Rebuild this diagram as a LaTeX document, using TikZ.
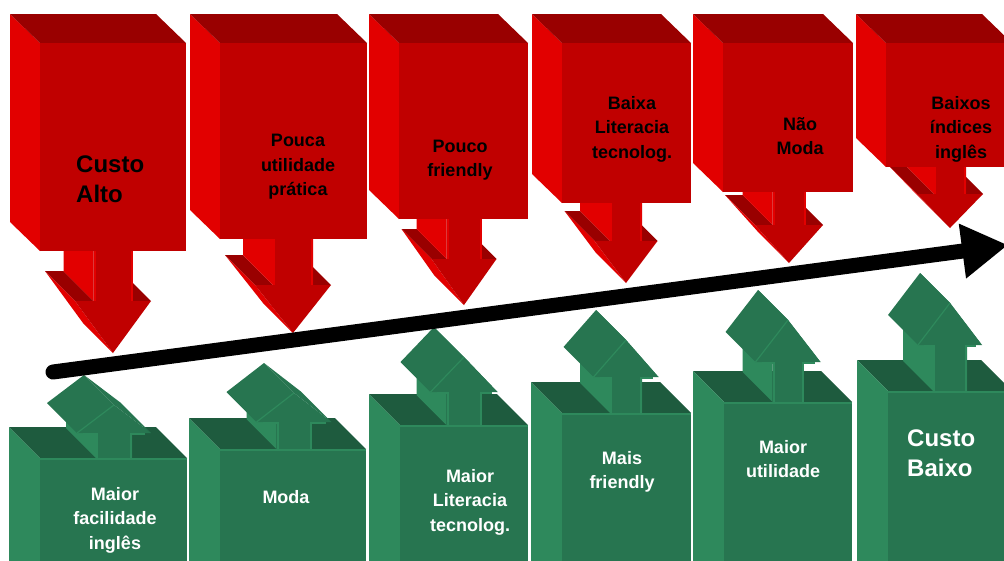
\documentclass[tikz,border=0pt]{standalone}
\usepackage{fontspec}
\setmainfont{Liberation Sans}
\usetikzlibrary{arrows.meta}

\definecolor{redfront}{RGB}{192,0,0}
\definecolor{redside}{RGB}{226,0,0}
\definecolor{redtop}{RGB}{153,0,0}
\definecolor{grnfront}{RGB}{39,117,80}
\definecolor{grnside}{RGB}{46,137,92}
\definecolor{grntop}{RGB}{30,91,62}

\newcommand{\blockdown}[8]{
  \fill[redtop] (#4-#6,#7) -- (#4-#5,#7) -- (#4-#5-30,#7-30) -- (#4-#6-30,#7-30) -- cycle;
  \fill[redtop] (#4+#5,#7) -- (#4+#6,#7) -- (#4+#6-30,#7-30) -- (#4+#5-30,#7-30) -- cycle;
  \fill[redside] (#4-#5,#3-40) -- (#4-#5,#7) -- (#4-#5-30,#7-30) -- (#4-#5-30,#3-70) -- cycle;
  \fill[redside] (#4-#6,#7) -- (#4,#8) -- (#4-30,#8-30) -- (#4-#6-30,#7-30) -- cycle;
  \fill[redfront] (#4-#5,#3-40) -- (#4-#5,#7) -- (#4-#6,#7) -- (#4,#8) -- (#4+#6,#7) -- (#4+#5,#7) -- (#4+#5,#3-40) -- cycle;
  \draw[redside, line width=2pt] (#4-#5+1,#3) -- (#4-#5+1,#7) (#4+#5-1,#3) -- (#4+#5-1,#7);
  \fill[redside] (#1-30,14) -- (#1,43) -- (#1,#3) -- (#1-30,#3-29) -- cycle;
  \fill[redtop] (#1-30,14) -- (#2-30,14) -- (#2,43) -- (#1,43) -- cycle;
  \fill[redfront] (#1,43) rectangle (#2,#3);
}

\newcommand{\blockup}[8]{
  \fill[grntop] (#1-31,#3-31) -- (#2-31,#3-31) -- (#2,#3) -- (#1,#3) -- cycle;
  \fill[grnfront] (#4,#8) -- (#4+#6,#7) -- (#4+#6-30,#7-30) -- (#4-30,#8-30) -- cycle;
  \fill[grnside] (#4-#5,#3) -- (#4-#5,#7) -- (#4-#5-30,#7-30) -- (#4-#5-30,#3-30) -- cycle;
  \fill[grnfront] (#4-#6,#7) -- (#4,#8) -- (#4-30,#8-30) -- (#4-#6-30,#7-30) -- cycle;
  \fill[grnfront] (#4-#5,#3) -- (#4-#5,#7) -- (#4-#6,#7) -- (#4,#8) -- (#4+#6,#7) -- (#4+#5,#7) -- (#4+#5,#3) -- cycle;
  \draw[grnside, line width=1.2pt] (#4-#6,#7) -- (#4,#8);
  \draw[grnside, line width=2pt] (#4-#5+1,#3) -- (#4-#5+1,#7+1) -- (#4-#6+6,#7+1) (#4+#5-1,#3) -- (#4+#5-1,#7+1) -- (#4+#6-6,#7+1);
  \fill[grnside] (#1-31,#3-31) -- (#1,#3) -- (#1,600) -- (#1-31,569) -- cycle;
  \fill[grnfront] (#1,#3) rectangle (#2,600);
  \draw[grnside, line width=1.5pt] (#1,#3+1) -- (#2,#3+1);
}

\begin{document}
\begin{tikzpicture}[x=1pt, y=-1pt]
    \tikzstyle{txtred}=[font=\bfseries\fontsize{18}{24.5}\selectfont, align=center, text=black, inner sep=0pt]
    \tikzstyle{txtgrn}=[font=\bfseries\fontsize{18}{24.5}\selectfont, align=center, text=white, inner sep=0pt]
    \tikzstyle{txtbig}=[font=\bfseries\fontsize{24}{29.5}\selectfont, align=left, anchor=west, inner sep=0pt]
    \useasboundingbox (0,0) rectangle (1004,560);
    \clip (0,0) rectangle (1004,560);

    \blockdown{40}{186}{251}{113}{19.5}{38}{301}{353}
    \blockdown{220}{367}{239}{293}{20}{38}{285}{333}
    \blockdown{399}{528}{219}{464}{17.5}{32.5}{259}{305}
    \blockdown{562}{691}{203}{626}{16}{31.5}{241}{283}
    \blockdown{723}{853}{192}{789}{16.5}{34}{225}{263}
    \blockdown{886}{1012}{167}{950}{16}{33}{194}{228}

    \blockup{40}{187}{458}{114}{18}{37}{433}{405}
    \blockup{220}{366}{449}{294}{17.5}{37.5}{422}{393}
    \blockup{400}{528}{425}{464}{17.5}{33.5}{392}{357}
    \blockup{562}{691}{413}{626}{16}{32.5}{377}{340}
    \blockup{724}{852}{402}{788}{15.5}{32.5}{362}{320}
    \blockup{888}{1012}{391}{950}{17}{32}{345}{303}

    \node[txtbig, text=black] (custoalto) at (76,179) {Custo\\Alto};
    \node[txtred] (pouca) at (298,167) {Pouca\\utilidade\\prática};
    \node[txtred] (friendly) at (460,160) {Pouco\\friendly};
    \node[txtred] (baixalit) at (632,129) {Baixa\\Literacia\\tecnolog.};
    \node[txtred] (naomoda) at (800,136) {Não\\Moda};
    \node[txtred] (baixosind) at (961,129) {Baixos\\índices\\inglês};

    \node[txtgrn] (facilidade) at (115,520) {Maior\\facilidade\\inglês};
    \node[txtgrn] (moda) at (286,497) {Moda};
    \node[txtgrn] (maiorlit) at (470,502) {Maior\\Literacia\\tecnolog.};
    \node[txtgrn] (maisfriendly) at (622,472) {Mais\\friendly};
    \node[txtgrn] (utilidade) at (783,459) {Maior\\utilidade};
    \node[txtbig, text=white] (custobaixo) at (907,453) {Custo\\Baixo};

    \coordinate (origem) at (53,372);
    \coordinate (destino) at (1008,245);
    \draw[line width=15pt, line cap=round, -{Triangle[length=46pt, width=52pt]}] (origem) -- (destino);
\end{tikzpicture}
\end{document}
